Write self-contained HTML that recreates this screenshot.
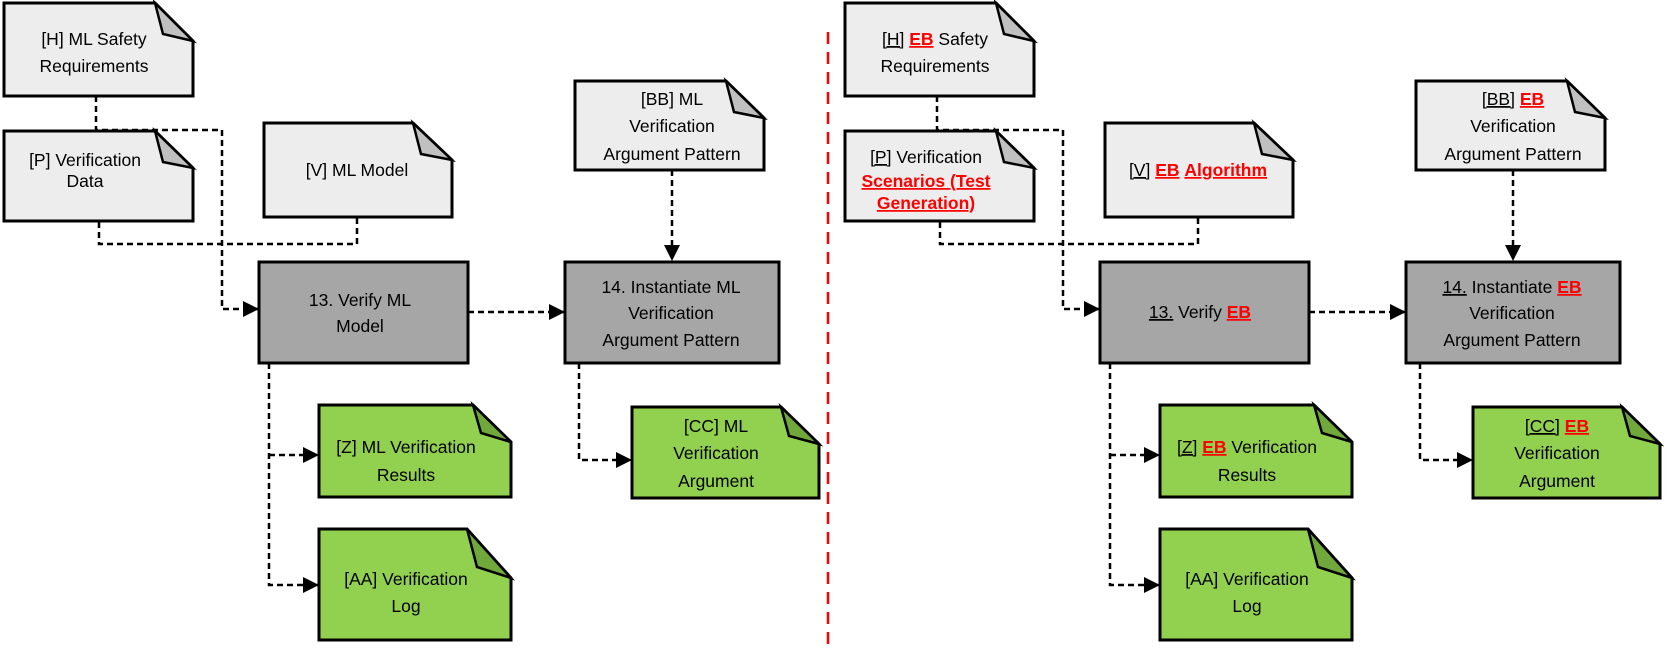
<!DOCTYPE html>
<html><head><meta charset="utf-8"><style>
html,body{margin:0;padding:0;background:#fff}
svg{display:block}
text{font-family:"Liberation Sans",sans-serif;font-size:17.5px;fill:#000}
.r{fill:#ff0000;font-weight:bold}
</style></head><body>
<svg width="1668" height="654" viewBox="0 0 1668 654" xmlns="http://www.w3.org/2000/svg">
<defs>
<marker id="a" markerWidth="16" markerHeight="16" refX="15" refY="8" orient="auto" markerUnits="userSpaceOnUse" viewBox="0 0 16 16">
<path d="M0,0 L16,8 L0,16 z" fill="#000"/></marker>
<g id="s">
 <g fill="none" stroke="#000" stroke-width="2.5" stroke-dasharray="6,4">
  <path d="M96,96 V130 H222 V309 H258" marker-end="url(#a)"/>
  <path d="M99,222 V244 H357 V217"/>
  <path d="M672,170 V260" marker-end="url(#a)"/>
  <path d="M468,312 H564" marker-end="url(#a)"/>
  <path d="M269,363 V585 H318" marker-end="url(#a)"/>
  <path d="M269,455 H318" marker-end="url(#a)"/>
  <path d="M579,363 V460 H631" marker-end="url(#a)"/>
 </g>
 <g stroke="#000" stroke-width="3" stroke-linejoin="miter">
  <path d="M4,3 H155 L193,41 V96 H4 Z" fill="#ededed"/>
  <path d="M155,3 L163,34 L193,41 Z" fill="#c0c0c0" stroke-width="2.5"/>
  <path d="M4,131 H155 L193,168 V221 H4 Z" fill="#ededed"/>
  <path d="M155,131 L163,162 L193,168 Z" fill="#c0c0c0" stroke-width="2.5"/>
  <path d="M264,123 H413 L452,160 V217 H264 Z" fill="#ededed"/>
  <path d="M413,123 L421,154 L452,160 Z" fill="#c0c0c0" stroke-width="2.5"/>
  <path d="M575,81 H726 L764,118 V170 H575 Z" fill="#ededed"/>
  <path d="M726,81 L734,112 L764,118 Z" fill="#c0c0c0" stroke-width="2.5"/>
  <rect x="259" y="262" width="209" height="101" fill="#a6a6a6"/>
  <rect x="565" y="262" width="214" height="101" fill="#a6a6a6"/>
  <path d="M319,405 H473 L511,442 V497 H319 Z" fill="#92d050"/>
  <path d="M473,405 L481,433 L511,442 Z" fill="#70a83b" stroke-width="2.5"/>
  <path d="M319,529 H467 L511,578 V640 H319 Z" fill="#92d050"/>
  <path d="M467,529 L477,567 L511,578 Z" fill="#70a83b" stroke-width="2.5"/>
  <path d="M632,407 H781 L819,444 V498 H632 Z" fill="#92d050"/>
  <path d="M781,407 L789,436 L819,444 Z" fill="#70a83b" stroke-width="2.5"/>
 </g>
</g>
</defs>
<use href="#s"/>
<use href="#s" transform="translate(841,0)"/>
<line x1="828" y1="32" x2="828" y2="648" stroke="#ff0000" stroke-width="2.5" stroke-dasharray="12,8"/>
<g text-anchor="middle">
 <text x="94" y="45">[H] ML Safety</text>
 <text x="94" y="72">Requirements</text>
 <text x="85" y="166">[P] Verification</text>
 <text x="85" y="187">Data</text>
 <text x="357" y="176">[V] ML Model</text>
 <text x="672" y="105">[BB] ML</text>
 <text x="672" y="132">Verification</text>
 <text x="672" y="160">Argument Pattern</text>
 <text x="360" y="306">13. Verify ML</text>
 <text x="360" y="332">Model</text>
 <text x="671" y="293">14. Instantiate ML</text>
 <text x="671" y="319">Verification</text>
 <text x="671" y="346">Argument Pattern</text>
 <text x="406" y="453">[Z] ML Verification</text>
 <text x="406" y="481">Results</text>
 <text x="406" y="585">[AA] Verification</text>
 <text x="406" y="612">Log</text>
 <text x="716" y="432">[CC] ML</text>
 <text x="716" y="459">Verification</text>
 <text x="716" y="487">Argument</text>
 <text x="935" y="45"><tspan text-decoration="underline">[H]</tspan> <tspan class="r" text-decoration="underline">EB</tspan> Safety</text>
 <text x="935" y="72">Requirements</text>
 <text x="926" y="163"><tspan text-decoration="underline">[P]</tspan> Verification</text>
 <text x="926" y="187" class="r" text-decoration="underline">Scenarios (Test</text>
 <text x="926" y="209" class="r" text-decoration="underline">Generation)</text>
 <text x="1198" y="176"><tspan text-decoration="underline">[V]</tspan> <tspan class="r" text-decoration="underline">EB</tspan> <tspan class="r" text-decoration="underline">Algorithm</tspan></text>
 <text x="1513" y="105"><tspan text-decoration="underline">[BB]</tspan> <tspan class="r" text-decoration="underline">EB</tspan></text>
 <text x="1513" y="132">Verification</text>
 <text x="1513" y="160">Argument Pattern</text>
 <text x="1200" y="318"><tspan text-decoration="underline">13.</tspan> Verify <tspan class="r" text-decoration="underline">EB</tspan></text>
 <text x="1512" y="293"><tspan text-decoration="underline">14.</tspan> Instantiate <tspan class="r" text-decoration="underline">EB</tspan></text>
 <text x="1512" y="319">Verification</text>
 <text x="1512" y="346">Argument Pattern</text>
 <text x="1247" y="453"><tspan text-decoration="underline">[Z]</tspan> <tspan class="r" text-decoration="underline">EB</tspan> Verification</text>
 <text x="1247" y="481">Results</text>
 <text x="1247" y="585">[AA] Verification</text>
 <text x="1247" y="612">Log</text>
 <text x="1557" y="432"><tspan text-decoration="underline">[CC]</tspan> <tspan class="r" text-decoration="underline">EB</tspan></text>
 <text x="1557" y="459">Verification</text>
 <text x="1557" y="487">Argument</text>
</g>
</svg>
</body></html>
